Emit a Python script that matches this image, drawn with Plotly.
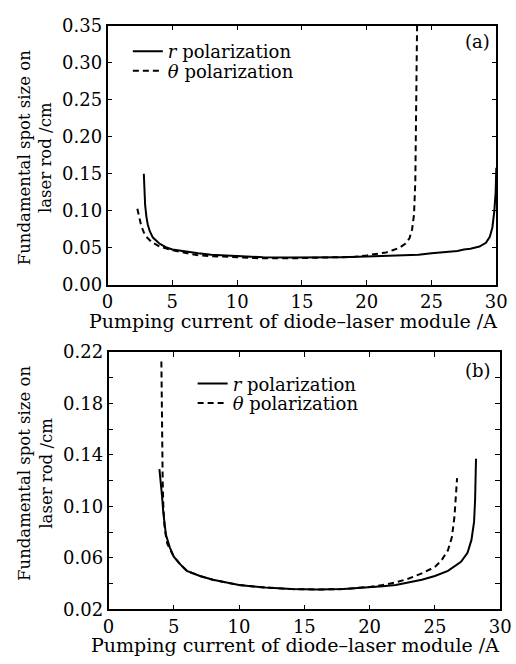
import plotly.graph_objects as go

# ---- Panel (a) data ----
a_r_x = [2.8, 2.85, 2.9, 3.0, 3.1, 3.25, 3.5, 4.0, 4.5, 5, 6, 7, 8, 10, 12, 14, 16, 18, 20, 22, 24, 25, 26, 27, 27.5, 28, 28.7, 29.2, 29.5, 29.7, 29.85, 29.95, 30.0]
a_r_y = [0.150, 0.128, 0.108, 0.092, 0.082, 0.073, 0.064, 0.056, 0.051, 0.048, 0.045, 0.043, 0.041, 0.039, 0.0375, 0.037, 0.037, 0.0375, 0.0385, 0.0395, 0.041, 0.043, 0.044, 0.046, 0.048, 0.049, 0.052, 0.057, 0.065, 0.078, 0.100, 0.125, 0.158]
a_t_x = [2.3, 2.4, 2.5, 2.6, 2.8, 3.0, 3.4, 4.0, 5, 6, 7, 8, 10, 12, 14, 16, 18, 19, 20, 21, 21.5, 22, 22.5, 23, 23.3, 23.5, 23.65, 23.75, 23.82, 23.88, 23.92]
a_t_y = [0.103, 0.094, 0.086, 0.080, 0.071, 0.065, 0.058, 0.052, 0.047, 0.043, 0.040, 0.039, 0.037, 0.036, 0.036, 0.0365, 0.037, 0.038, 0.040, 0.042, 0.044, 0.047, 0.050, 0.056, 0.063, 0.075, 0.095, 0.14, 0.22, 0.32, 0.40]

# ---- Panel (b) data ----
b_r_x = [3.9, 4.0, 4.1, 4.2, 4.4, 4.7, 5.0, 5.5, 6, 7, 8, 10, 12, 14, 16, 18, 20, 21, 22, 23, 24, 25, 26, 27, 27.5, 27.8, 28.0, 28.08, 28.15]
b_r_y = [0.129, 0.120, 0.108, 0.095, 0.078, 0.068, 0.061, 0.055, 0.050, 0.046, 0.043, 0.039, 0.037, 0.0358, 0.0355, 0.0358, 0.037, 0.038, 0.039, 0.041, 0.043, 0.046, 0.050, 0.057, 0.064, 0.074, 0.088, 0.105, 0.137]
b_t_x = [4.05, 4.07, 4.1, 4.15, 4.2, 4.3, 4.5, 5.0, 5.5, 6, 7, 8, 10, 12, 14, 16, 18, 20, 21, 22, 23, 24, 25, 25.5, 26, 26.3, 26.5, 26.7]
b_t_y = [0.2125, 0.18, 0.15, 0.12, 0.10, 0.083, 0.071, 0.061, 0.055, 0.050, 0.046, 0.043, 0.039, 0.037, 0.0358, 0.0355, 0.0358, 0.0375, 0.039, 0.041, 0.044, 0.048, 0.053, 0.058, 0.066, 0.076, 0.092, 0.122]

legend_names = ["<i>r</i> polarization", "<i>θ</i> polarization"]
xtitle = "Pumping current of diode–laser module /A"
ytitle = "Fundamental spot size on<br>laser rod /cm"

FONT = "DejaVu Serif, Liberation Serif, serif"
W, H = 516, 664

def px(x):
    return x / W

def py(y):
    return 1 - y / H

fig = go.Figure()
line_w = 2
DASH = "6px,4px"
fig.add_trace(go.Scatter(x=a_r_x, y=a_r_y, mode="lines", name=legend_names[0],
                         line=dict(color="black", width=line_w), xaxis="x", yaxis="y", legend="legend"))
fig.add_trace(go.Scatter(x=a_t_x, y=a_t_y, mode="lines", name=legend_names[1],
                         line=dict(color="black", width=line_w, dash=DASH), xaxis="x", yaxis="y", legend="legend2"))
fig.add_trace(go.Scatter(x=b_r_x, y=b_r_y, mode="lines", name=legend_names[0],
                         line=dict(color="black", width=line_w), xaxis="x2", yaxis="y2", legend="legend3"))
fig.add_trace(go.Scatter(x=b_t_x, y=b_t_y, mode="lines", name=legend_names[1],
                         line=dict(color="black", width=line_w, dash=DASH), xaxis="x2", yaxis="y2", legend="legend4"))

axis_common = dict(showline=True, linecolor="black", linewidth=1.5, mirror="allticks",
                   ticks="inside", ticklen=5, tickcolor="black", showgrid=False, zeroline=False,
                   ticklabeloverflow="allow",
                   tickfont=dict(family=FONT, size=18, color="black"))

def leg(x, y):
    return dict(x=px(x), y=py(y), xanchor="left", yanchor="middle", bgcolor="rgba(0,0,0,0)",
                font=dict(family=FONT, size=18, color="black"), itemwidth=30, borderwidth=0)

fig.update_layout(
    width=W, height=H, margin=dict(l=0, r=0, t=0, b=0),
    paper_bgcolor="white", plot_bgcolor="white",
    font=dict(family=FONT, color="black"),
    xaxis=dict(domain=[px(105), px(507)], range=[0, 30], dtick=5, tick0=0, anchor="y", **axis_common),
    yaxis=dict(domain=[py(283), py(15)], range=[0, 0.35], dtick=0.05, tick0=0, tickformat=".2f", anchor="x", **axis_common),
    xaxis2=dict(domain=[px(106), px(511)], range=[0, 30], dtick=5, tick0=0, anchor="y2", **axis_common),
    yaxis2=dict(domain=[py(618), py(352)], range=[0.02, 0.22], dtick=0.04, tick0=0.02, tickformat=".2f", anchor="x2",
                minor=dict(dtick=0.02, tick0=0.02, ticks="inside", ticklen=5, tickcolor="black"), **axis_common),
    legend=leg(126, 42),
    legend2=leg(126, 62),
    legend3=leg(193, 385),
    legend4=leg(193, 405),
    showlegend=True,
)

def add_text(text, x, y, size, angle=0):
    fig.add_annotation(text=text, x=px(x), y=py(y), xref="paper", yref="paper", showarrow=False,
                       xanchor="center", yanchor="middle", textangle=angle,
                       font=dict(family=FONT, size=size, color="black"))

add_text("(a)", 488, 32, 18)
add_text("(b)", 488, 371, 18)
add_text(xtitle, 297, 320, 19)
add_text(xtitle, 299, 655, 19)
add_text(ytitle, 30, 152, 16.5, -90)
add_text(ytitle, 30, 478, 16.5, -90)

fig.write_html("out.html")
